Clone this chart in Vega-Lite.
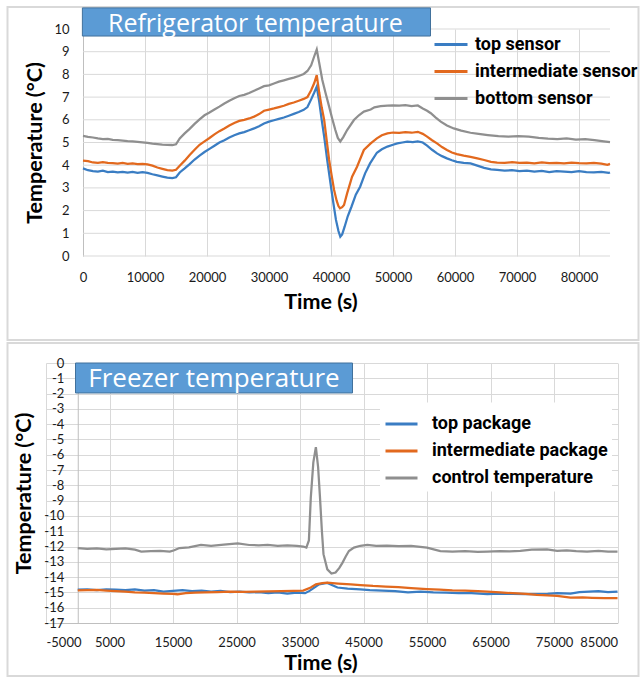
{
  "$schema": "https://vega.github.io/schema/vega-lite/v6.json",
  "background": "white",
  "padding": {"left": 6, "top": 6, "right": 0, "bottom": 0},
  "spacing": 0,
  "columns": 1,
  "resolve": {
    "scale": {"x": "independent", "y": "independent", "color": "independent"},
    "axis": {"x": "independent", "y": "independent"},
    "legend": {"color": "independent"}
  },
  "config": {
    "view": {"stroke": null},
    "font": "Lato",
    "axis": {
      "gridColor": "#d9d9d9",
      "domainColor": "#bfbfbf",
      "labelColor": "#1a1a1a",
      "labelFont": "Lato",
      "labelFontSize": 13,
      "labelOverlap": false,
      "labelBound": false,
      "titleFont": "Lato",
      "titleFontSize": 21.5,
      "titleFontWeight": "bold",
      "titleColor": "#000000",
      "ticks": false,
      "labelExpr": "'' + datum.value"
    }
  },
  "datasets": {
    "fridge": [
      {"t":0,"T":3.86,"s":"top sensor"},{"t":800,"T":3.78,"s":"top sensor"},{"t":1600,"T":3.74,"s":"top sensor"},{"t":2400,"T":3.72,"s":"top sensor"},{"t":3200,"T":3.76,"s":"top sensor"},{"t":4000,"T":3.70,"s":"top sensor"},{"t":4800,"T":3.72,"s":"top sensor"},{"t":5600,"T":3.68,"s":"top sensor"},{"t":6400,"T":3.71,"s":"top sensor"},{"t":7200,"T":3.67,"s":"top sensor"},{"t":8000,"T":3.70,"s":"top sensor"},{"t":8800,"T":3.66,"s":"top sensor"},{"t":9600,"T":3.69,"s":"top sensor"},{"t":10400,"T":3.66,"s":"top sensor"},{"t":11200,"T":3.60,"s":"top sensor"},{"t":12000,"T":3.55,"s":"top sensor"},{"t":12800,"T":3.50,"s":"top sensor"},{"t":13600,"T":3.45,"s":"top sensor"},{"t":14400,"T":3.43,"s":"top sensor"},{"t":15000,"T":3.47,"s":"top sensor"},{"t":15600,"T":3.68,"s":"top sensor"},{"t":16400,"T":3.86,"s":"top sensor"},{"t":17200,"T":4.05,"s":"top sensor"},{"t":18000,"T":4.25,"s":"top sensor"},{"t":18800,"T":4.42,"s":"top sensor"},{"t":19600,"T":4.58,"s":"top sensor"},{"t":20400,"T":4.72,"s":"top sensor"},{"t":21200,"T":4.86,"s":"top sensor"},{"t":22000,"T":5.00,"s":"top sensor"},{"t":22800,"T":5.10,"s":"top sensor"},{"t":23600,"T":5.22,"s":"top sensor"},{"t":24400,"T":5.32,"s":"top sensor"},{"t":25200,"T":5.40,"s":"top sensor"},{"t":26000,"T":5.46,"s":"top sensor"},{"t":26800,"T":5.54,"s":"top sensor"},{"t":27600,"T":5.62,"s":"top sensor"},{"t":28400,"T":5.72,"s":"top sensor"},{"t":29200,"T":5.84,"s":"top sensor"},{"t":30000,"T":5.92,"s":"top sensor"},{"t":30800,"T":5.98,"s":"top sensor"},{"t":31600,"T":6.04,"s":"top sensor"},{"t":32400,"T":6.10,"s":"top sensor"},{"t":33200,"T":6.18,"s":"top sensor"},{"t":34000,"T":6.26,"s":"top sensor"},{"t":34800,"T":6.34,"s":"top sensor"},{"t":35600,"T":6.44,"s":"top sensor"},{"t":36200,"T":6.56,"s":"top sensor"},{"t":36800,"T":6.90,"s":"top sensor"},{"t":37300,"T":7.20,"s":"top sensor"},{"t":37700,"T":7.46,"s":"top sensor"},{"t":38100,"T":6.80,"s":"top sensor"},{"t":38500,"T":6.00,"s":"top sensor"},{"t":38900,"T":5.26,"s":"top sensor"},{"t":39400,"T":4.20,"s":"top sensor"},{"t":40000,"T":3.05,"s":"top sensor"},{"t":40400,"T":2.30,"s":"top sensor"},{"t":40800,"T":1.59,"s":"top sensor"},{"t":41200,"T":1.10,"s":"top sensor"},{"t":41500,"T":0.85,"s":"top sensor"},{"t":41800,"T":0.95,"s":"top sensor"},{"t":42200,"T":1.29,"s":"top sensor"},{"t":42700,"T":1.75,"s":"top sensor"},{"t":43300,"T":2.17,"s":"top sensor"},{"t":44000,"T":2.70,"s":"top sensor"},{"t":44700,"T":3.05,"s":"top sensor"},{"t":45500,"T":3.64,"s":"top sensor"},{"t":46300,"T":4.08,"s":"top sensor"},{"t":47400,"T":4.55,"s":"top sensor"},{"t":48200,"T":4.70,"s":"top sensor"},{"t":49100,"T":4.82,"s":"top sensor"},{"t":50000,"T":4.90,"s":"top sensor"},{"t":50700,"T":4.96,"s":"top sensor"},{"t":51500,"T":5.00,"s":"top sensor"},{"t":52300,"T":5.04,"s":"top sensor"},{"t":53200,"T":5.02,"s":"top sensor"},{"t":54000,"T":5.05,"s":"top sensor"},{"t":54800,"T":5.00,"s":"top sensor"},{"t":55500,"T":4.86,"s":"top sensor"},{"t":56300,"T":4.68,"s":"top sensor"},{"t":57100,"T":4.52,"s":"top sensor"},{"t":57900,"T":4.40,"s":"top sensor"},{"t":58700,"T":4.30,"s":"top sensor"},{"t":59500,"T":4.22,"s":"top sensor"},{"t":60300,"T":4.15,"s":"top sensor"},{"t":61400,"T":4.10,"s":"top sensor"},{"t":62500,"T":4.08,"s":"top sensor"},{"t":63600,"T":3.98,"s":"top sensor"},{"t":64700,"T":3.88,"s":"top sensor"},{"t":65800,"T":3.82,"s":"top sensor"},{"t":66800,"T":3.79,"s":"top sensor"},{"t":68000,"T":3.76,"s":"top sensor"},{"t":69200,"T":3.78,"s":"top sensor"},{"t":70400,"T":3.74,"s":"top sensor"},{"t":71600,"T":3.76,"s":"top sensor"},{"t":72800,"T":3.72,"s":"top sensor"},{"t":74000,"T":3.75,"s":"top sensor"},{"t":75200,"T":3.70,"s":"top sensor"},{"t":76400,"T":3.74,"s":"top sensor"},{"t":77600,"T":3.72,"s":"top sensor"},{"t":78800,"T":3.70,"s":"top sensor"},{"t":80000,"T":3.74,"s":"top sensor"},{"t":81200,"T":3.70,"s":"top sensor"},{"t":82400,"T":3.68,"s":"top sensor"},{"t":83600,"T":3.71,"s":"top sensor"},{"t":84800,"T":3.66,"s":"top sensor"},{"t":85000,"T":3.68,"s":"top sensor"},
      {"t":0,"T":4.20,"s":"intermediate sensor"},{"t":800,"T":4.18,"s":"intermediate sensor"},{"t":1600,"T":4.12,"s":"intermediate sensor"},{"t":2400,"T":4.10,"s":"intermediate sensor"},{"t":3200,"T":4.14,"s":"intermediate sensor"},{"t":4000,"T":4.10,"s":"intermediate sensor"},{"t":4800,"T":4.09,"s":"intermediate sensor"},{"t":5600,"T":4.07,"s":"intermediate sensor"},{"t":6400,"T":4.10,"s":"intermediate sensor"},{"t":7200,"T":4.06,"s":"intermediate sensor"},{"t":8000,"T":4.08,"s":"intermediate sensor"},{"t":8800,"T":4.05,"s":"intermediate sensor"},{"t":9600,"T":4.06,"s":"intermediate sensor"},{"t":10400,"T":4.04,"s":"intermediate sensor"},{"t":11200,"T":3.98,"s":"intermediate sensor"},{"t":12000,"T":3.90,"s":"intermediate sensor"},{"t":12800,"T":3.84,"s":"intermediate sensor"},{"t":13600,"T":3.78,"s":"intermediate sensor"},{"t":14400,"T":3.76,"s":"intermediate sensor"},{"t":15000,"T":3.80,"s":"intermediate sensor"},{"t":15600,"T":3.98,"s":"intermediate sensor"},{"t":16400,"T":4.20,"s":"intermediate sensor"},{"t":17200,"T":4.45,"s":"intermediate sensor"},{"t":18000,"T":4.68,"s":"intermediate sensor"},{"t":18800,"T":4.90,"s":"intermediate sensor"},{"t":19600,"T":5.05,"s":"intermediate sensor"},{"t":20400,"T":5.20,"s":"intermediate sensor"},{"t":21200,"T":5.36,"s":"intermediate sensor"},{"t":22000,"T":5.50,"s":"intermediate sensor"},{"t":22800,"T":5.62,"s":"intermediate sensor"},{"t":23600,"T":5.75,"s":"intermediate sensor"},{"t":24400,"T":5.86,"s":"intermediate sensor"},{"t":25200,"T":5.95,"s":"intermediate sensor"},{"t":26000,"T":6.00,"s":"intermediate sensor"},{"t":26800,"T":6.06,"s":"intermediate sensor"},{"t":27600,"T":6.14,"s":"intermediate sensor"},{"t":28400,"T":6.25,"s":"intermediate sensor"},{"t":29200,"T":6.40,"s":"intermediate sensor"},{"t":30000,"T":6.45,"s":"intermediate sensor"},{"t":30800,"T":6.50,"s":"intermediate sensor"},{"t":31600,"T":6.56,"s":"intermediate sensor"},{"t":32400,"T":6.62,"s":"intermediate sensor"},{"t":33200,"T":6.70,"s":"intermediate sensor"},{"t":34000,"T":6.76,"s":"intermediate sensor"},{"t":34800,"T":6.84,"s":"intermediate sensor"},{"t":35600,"T":6.92,"s":"intermediate sensor"},{"t":36200,"T":7.00,"s":"intermediate sensor"},{"t":36800,"T":7.30,"s":"intermediate sensor"},{"t":37300,"T":7.62,"s":"intermediate sensor"},{"t":37700,"T":7.97,"s":"intermediate sensor"},{"t":38100,"T":7.20,"s":"intermediate sensor"},{"t":38500,"T":6.55,"s":"intermediate sensor"},{"t":38900,"T":5.99,"s":"intermediate sensor"},{"t":39300,"T":5.10,"s":"intermediate sensor"},{"t":39700,"T":4.23,"s":"intermediate sensor"},{"t":40100,"T":3.55,"s":"intermediate sensor"},{"t":40500,"T":2.91,"s":"intermediate sensor"},{"t":40900,"T":2.45,"s":"intermediate sensor"},{"t":41200,"T":2.20,"s":"intermediate sensor"},{"t":41450,"T":2.10,"s":"intermediate sensor"},{"t":41800,"T":2.15,"s":"intermediate sensor"},{"t":42100,"T":2.25,"s":"intermediate sensor"},{"t":42600,"T":2.76,"s":"intermediate sensor"},{"t":43400,"T":3.49,"s":"intermediate sensor"},{"t":44200,"T":3.93,"s":"intermediate sensor"},{"t":45300,"T":4.67,"s":"intermediate sensor"},{"t":46400,"T":4.96,"s":"intermediate sensor"},{"t":47400,"T":5.18,"s":"intermediate sensor"},{"t":48200,"T":5.32,"s":"intermediate sensor"},{"t":49100,"T":5.40,"s":"intermediate sensor"},{"t":50000,"T":5.44,"s":"intermediate sensor"},{"t":51000,"T":5.42,"s":"intermediate sensor"},{"t":52000,"T":5.46,"s":"intermediate sensor"},{"t":53000,"T":5.43,"s":"intermediate sensor"},{"t":54000,"T":5.47,"s":"intermediate sensor"},{"t":54800,"T":5.38,"s":"intermediate sensor"},{"t":55500,"T":5.26,"s":"intermediate sensor"},{"t":56300,"T":5.10,"s":"intermediate sensor"},{"t":57100,"T":4.96,"s":"intermediate sensor"},{"t":57900,"T":4.80,"s":"intermediate sensor"},{"t":58700,"T":4.67,"s":"intermediate sensor"},{"t":59500,"T":4.56,"s":"intermediate sensor"},{"t":60300,"T":4.49,"s":"intermediate sensor"},{"t":61400,"T":4.42,"s":"intermediate sensor"},{"t":62500,"T":4.37,"s":"intermediate sensor"},{"t":63600,"T":4.30,"s":"intermediate sensor"},{"t":64700,"T":4.23,"s":"intermediate sensor"},{"t":65800,"T":4.15,"s":"intermediate sensor"},{"t":66800,"T":4.11,"s":"intermediate sensor"},{"t":68000,"T":4.10,"s":"intermediate sensor"},{"t":69200,"T":4.13,"s":"intermediate sensor"},{"t":70400,"T":4.10,"s":"intermediate sensor"},{"t":71600,"T":4.11,"s":"intermediate sensor"},{"t":72800,"T":4.08,"s":"intermediate sensor"},{"t":74000,"T":4.12,"s":"intermediate sensor"},{"t":75200,"T":4.09,"s":"intermediate sensor"},{"t":76400,"T":4.10,"s":"intermediate sensor"},{"t":77600,"T":4.08,"s":"intermediate sensor"},{"t":78800,"T":4.11,"s":"intermediate sensor"},{"t":80000,"T":4.09,"s":"intermediate sensor"},{"t":81200,"T":4.08,"s":"intermediate sensor"},{"t":82400,"T":4.10,"s":"intermediate sensor"},{"t":83600,"T":4.07,"s":"intermediate sensor"},{"t":84600,"T":4.02,"s":"intermediate sensor"},{"t":85000,"T":4.06,"s":"intermediate sensor"},
      {"t":0,"T":5.29,"s":"bottom sensor"},{"t":800,"T":5.25,"s":"bottom sensor"},{"t":1600,"T":5.22,"s":"bottom sensor"},{"t":2400,"T":5.18,"s":"bottom sensor"},{"t":3200,"T":5.15,"s":"bottom sensor"},{"t":4000,"T":5.16,"s":"bottom sensor"},{"t":4800,"T":5.12,"s":"bottom sensor"},{"t":5600,"T":5.10,"s":"bottom sensor"},{"t":6400,"T":5.08,"s":"bottom sensor"},{"t":7200,"T":5.06,"s":"bottom sensor"},{"t":8000,"T":5.05,"s":"bottom sensor"},{"t":8800,"T":5.03,"s":"bottom sensor"},{"t":9600,"T":5.01,"s":"bottom sensor"},{"t":10400,"T":4.98,"s":"bottom sensor"},{"t":11200,"T":4.95,"s":"bottom sensor"},{"t":12000,"T":4.93,"s":"bottom sensor"},{"t":12800,"T":4.91,"s":"bottom sensor"},{"t":13600,"T":4.90,"s":"bottom sensor"},{"t":14400,"T":4.89,"s":"bottom sensor"},{"t":15000,"T":4.92,"s":"bottom sensor"},{"t":15600,"T":5.18,"s":"bottom sensor"},{"t":16400,"T":5.40,"s":"bottom sensor"},{"t":17200,"T":5.60,"s":"bottom sensor"},{"t":18000,"T":5.82,"s":"bottom sensor"},{"t":18800,"T":6.02,"s":"bottom sensor"},{"t":19600,"T":6.20,"s":"bottom sensor"},{"t":20400,"T":6.32,"s":"bottom sensor"},{"t":21200,"T":6.45,"s":"bottom sensor"},{"t":22000,"T":6.58,"s":"bottom sensor"},{"t":22800,"T":6.72,"s":"bottom sensor"},{"t":23600,"T":6.84,"s":"bottom sensor"},{"t":24400,"T":6.95,"s":"bottom sensor"},{"t":25200,"T":7.05,"s":"bottom sensor"},{"t":26000,"T":7.10,"s":"bottom sensor"},{"t":26800,"T":7.18,"s":"bottom sensor"},{"t":27600,"T":7.28,"s":"bottom sensor"},{"t":28400,"T":7.38,"s":"bottom sensor"},{"t":29200,"T":7.48,"s":"bottom sensor"},{"t":30000,"T":7.52,"s":"bottom sensor"},{"t":30800,"T":7.60,"s":"bottom sensor"},{"t":31600,"T":7.68,"s":"bottom sensor"},{"t":32400,"T":7.74,"s":"bottom sensor"},{"t":33200,"T":7.80,"s":"bottom sensor"},{"t":34000,"T":7.86,"s":"bottom sensor"},{"t":34800,"T":7.93,"s":"bottom sensor"},{"t":35600,"T":8.02,"s":"bottom sensor"},{"t":36200,"T":8.15,"s":"bottom sensor"},{"t":36800,"T":8.40,"s":"bottom sensor"},{"t":37300,"T":8.80,"s":"bottom sensor"},{"t":37700,"T":9.10,"s":"bottom sensor"},{"t":38100,"T":8.50,"s":"bottom sensor"},{"t":38600,"T":7.75,"s":"bottom sensor"},{"t":39100,"T":7.20,"s":"bottom sensor"},{"t":39700,"T":6.58,"s":"bottom sensor"},{"t":40200,"T":6.05,"s":"bottom sensor"},{"t":40700,"T":5.55,"s":"bottom sensor"},{"t":41100,"T":5.20,"s":"bottom sensor"},{"t":41500,"T":5.04,"s":"bottom sensor"},{"t":42000,"T":5.25,"s":"bottom sensor"},{"t":42600,"T":5.55,"s":"bottom sensor"},{"t":43700,"T":5.99,"s":"bottom sensor"},{"t":44500,"T":6.20,"s":"bottom sensor"},{"t":45300,"T":6.36,"s":"bottom sensor"},{"t":46400,"T":6.45,"s":"bottom sensor"},{"t":47000,"T":6.55,"s":"bottom sensor"},{"t":48000,"T":6.60,"s":"bottom sensor"},{"t":49100,"T":6.62,"s":"bottom sensor"},{"t":50000,"T":6.64,"s":"bottom sensor"},{"t":51000,"T":6.62,"s":"bottom sensor"},{"t":52000,"T":6.65,"s":"bottom sensor"},{"t":53000,"T":6.60,"s":"bottom sensor"},{"t":54000,"T":6.63,"s":"bottom sensor"},{"t":54800,"T":6.50,"s":"bottom sensor"},{"t":55500,"T":6.40,"s":"bottom sensor"},{"t":56100,"T":6.29,"s":"bottom sensor"},{"t":56900,"T":6.10,"s":"bottom sensor"},{"t":57700,"T":5.92,"s":"bottom sensor"},{"t":58700,"T":5.75,"s":"bottom sensor"},{"t":59800,"T":5.62,"s":"bottom sensor"},{"t":61000,"T":5.52,"s":"bottom sensor"},{"t":62500,"T":5.43,"s":"bottom sensor"},{"t":63800,"T":5.38,"s":"bottom sensor"},{"t":65300,"T":5.33,"s":"bottom sensor"},{"t":67000,"T":5.28,"s":"bottom sensor"},{"t":68600,"T":5.26,"s":"bottom sensor"},{"t":70200,"T":5.28,"s":"bottom sensor"},{"t":71900,"T":5.26,"s":"bottom sensor"},{"t":73500,"T":5.20,"s":"bottom sensor"},{"t":75000,"T":5.17,"s":"bottom sensor"},{"t":76500,"T":5.15,"s":"bottom sensor"},{"t":78000,"T":5.18,"s":"bottom sensor"},{"t":79500,"T":5.13,"s":"bottom sensor"},{"t":81000,"T":5.15,"s":"bottom sensor"},{"t":82500,"T":5.10,"s":"bottom sensor"},{"t":84000,"T":5.05,"s":"bottom sensor"},{"t":85000,"T":5.02,"s":"bottom sensor"}
    ],
    "freezer": [
      {"t":0,"T":-14.82,"s":"top package"},{"t":1500,"T":-14.80,"s":"top package"},{"t":3000,"T":-14.85,"s":"top package"},{"t":4500,"T":-14.80,"s":"top package"},{"t":6000,"T":-14.82,"s":"top package"},{"t":7500,"T":-14.85,"s":"top package"},{"t":9000,"T":-14.80,"s":"top package"},{"t":10500,"T":-14.88,"s":"top package"},{"t":12000,"T":-14.85,"s":"top package"},{"t":13500,"T":-14.95,"s":"top package"},{"t":15000,"T":-14.90,"s":"top package"},{"t":16500,"T":-14.85,"s":"top package"},{"t":18000,"T":-14.92,"s":"top package"},{"t":19500,"T":-14.88,"s":"top package"},{"t":21000,"T":-14.95,"s":"top package"},{"t":22500,"T":-14.90,"s":"top package"},{"t":24000,"T":-14.98,"s":"top package"},{"t":25500,"T":-14.95,"s":"top package"},{"t":27000,"T":-15.00,"s":"top package"},{"t":28500,"T":-14.98,"s":"top package"},{"t":30000,"T":-15.05,"s":"top package"},{"t":31500,"T":-15.00,"s":"top package"},{"t":33000,"T":-15.08,"s":"top package"},{"t":34500,"T":-15.02,"s":"top package"},{"t":35800,"T":-15.05,"s":"top package"},{"t":36500,"T":-14.90,"s":"top package"},{"t":37200,"T":-14.70,"s":"top package"},{"t":38000,"T":-14.47,"s":"top package"},{"t":39300,"T":-14.38,"s":"top package"},{"t":40200,"T":-14.55,"s":"top package"},{"t":40900,"T":-14.68,"s":"top package"},{"t":42500,"T":-14.75,"s":"top package"},{"t":44500,"T":-14.80,"s":"top package"},{"t":46000,"T":-14.85,"s":"top package"},{"t":48000,"T":-14.88,"s":"top package"},{"t":50000,"T":-14.92,"s":"top package"},{"t":52000,"T":-15.00,"s":"top package"},{"t":54000,"T":-14.95,"s":"top package"},{"t":56000,"T":-15.00,"s":"top package"},{"t":58000,"T":-15.02,"s":"top package"},{"t":60000,"T":-15.05,"s":"top package"},{"t":62000,"T":-15.05,"s":"top package"},{"t":64500,"T":-15.12,"s":"top package"},{"t":66500,"T":-15.08,"s":"top package"},{"t":68500,"T":-15.10,"s":"top package"},{"t":70500,"T":-15.12,"s":"top package"},{"t":72300,"T":-15.12,"s":"top package"},{"t":74000,"T":-15.10,"s":"top package"},{"t":75500,"T":-15.05,"s":"top package"},{"t":77600,"T":-15.08,"s":"top package"},{"t":79000,"T":-14.98,"s":"top package"},{"t":80500,"T":-14.95,"s":"top package"},{"t":82000,"T":-14.92,"s":"top package"},{"t":83500,"T":-14.98,"s":"top package"},{"t":85000,"T":-14.95,"s":"top package"},
      {"t":0,"T":-14.86,"s":"intermediate package"},{"t":1500,"T":-14.85,"s":"intermediate package"},{"t":3000,"T":-14.84,"s":"intermediate package"},{"t":4500,"T":-14.88,"s":"intermediate package"},{"t":6000,"T":-14.92,"s":"intermediate package"},{"t":7500,"T":-14.95,"s":"intermediate package"},{"t":9000,"T":-15.00,"s":"intermediate package"},{"t":10500,"T":-15.02,"s":"intermediate package"},{"t":12000,"T":-15.05,"s":"intermediate package"},{"t":13500,"T":-15.08,"s":"intermediate package"},{"t":15000,"T":-15.10,"s":"intermediate package"},{"t":15700,"T":-15.12,"s":"intermediate package"},{"t":17000,"T":-15.05,"s":"intermediate package"},{"t":18500,"T":-15.02,"s":"intermediate package"},{"t":20000,"T":-15.00,"s":"intermediate package"},{"t":22000,"T":-14.98,"s":"intermediate package"},{"t":24000,"T":-14.95,"s":"intermediate package"},{"t":26000,"T":-14.97,"s":"intermediate package"},{"t":28000,"T":-14.95,"s":"intermediate package"},{"t":30000,"T":-14.93,"s":"intermediate package"},{"t":32000,"T":-14.92,"s":"intermediate package"},{"t":34000,"T":-14.90,"s":"intermediate package"},{"t":35500,"T":-14.88,"s":"intermediate package"},{"t":36700,"T":-14.68,"s":"intermediate package"},{"t":37500,"T":-14.47,"s":"intermediate package"},{"t":38500,"T":-14.40,"s":"intermediate package"},{"t":39300,"T":-14.36,"s":"intermediate package"},{"t":41000,"T":-14.42,"s":"intermediate package"},{"t":43000,"T":-14.48,"s":"intermediate package"},{"t":44500,"T":-14.52,"s":"intermediate package"},{"t":46500,"T":-14.58,"s":"intermediate package"},{"t":48500,"T":-14.62,"s":"intermediate package"},{"t":50500,"T":-14.66,"s":"intermediate package"},{"t":52500,"T":-14.72,"s":"intermediate package"},{"t":55000,"T":-14.78,"s":"intermediate package"},{"t":57000,"T":-14.82,"s":"intermediate package"},{"t":59000,"T":-14.86,"s":"intermediate package"},{"t":61000,"T":-14.88,"s":"intermediate package"},{"t":63000,"T":-14.92,"s":"intermediate package"},{"t":64500,"T":-14.95,"s":"intermediate package"},{"t":66500,"T":-15.00,"s":"intermediate package"},{"t":68500,"T":-15.05,"s":"intermediate package"},{"t":70500,"T":-15.10,"s":"intermediate package"},{"t":72300,"T":-15.16,"s":"intermediate package"},{"t":74000,"T":-15.20,"s":"intermediate package"},{"t":75500,"T":-15.22,"s":"intermediate package"},{"t":77600,"T":-15.34,"s":"intermediate package"},{"t":79500,"T":-15.32,"s":"intermediate package"},{"t":81000,"T":-15.35,"s":"intermediate package"},{"t":83000,"T":-15.38,"s":"intermediate package"},{"t":85000,"T":-15.38,"s":"intermediate package"},
      {"t":0,"T":-12.10,"s":"control temperature"},{"t":1500,"T":-12.15,"s":"control temperature"},{"t":3000,"T":-12.12,"s":"control temperature"},{"t":4500,"T":-12.18,"s":"control temperature"},{"t":6000,"T":-12.15,"s":"control temperature"},{"t":7500,"T":-12.12,"s":"control temperature"},{"t":9000,"T":-12.20,"s":"control temperature"},{"t":10000,"T":-12.33,"s":"control temperature"},{"t":11500,"T":-12.30,"s":"control temperature"},{"t":13000,"T":-12.28,"s":"control temperature"},{"t":14500,"T":-12.33,"s":"control temperature"},{"t":15200,"T":-12.24,"s":"control temperature"},{"t":16000,"T":-12.10,"s":"control temperature"},{"t":17500,"T":-12.05,"s":"control temperature"},{"t":19400,"T":-11.90,"s":"control temperature"},{"t":21000,"T":-11.95,"s":"control temperature"},{"t":23000,"T":-11.88,"s":"control temperature"},{"t":25200,"T":-11.80,"s":"control temperature"},{"t":27000,"T":-11.90,"s":"control temperature"},{"t":28500,"T":-11.92,"s":"control temperature"},{"t":29900,"T":-11.90,"s":"control temperature"},{"t":31500,"T":-11.95,"s":"control temperature"},{"t":33000,"T":-11.92,"s":"control temperature"},{"t":34500,"T":-11.96,"s":"control temperature"},{"t":35500,"T":-12.00,"s":"control temperature"},{"t":36000,"T":-12.07,"s":"control temperature"},{"t":36400,"T":-11.60,"s":"control temperature"},{"t":36700,"T":-8.80,"s":"control temperature"},{"t":37100,"T":-6.50,"s":"control temperature"},{"t":37500,"T":-5.50,"s":"control temperature"},{"t":37850,"T":-6.80,"s":"control temperature"},{"t":38150,"T":-8.80,"s":"control temperature"},{"t":38450,"T":-11.00,"s":"control temperature"},{"t":38700,"T":-12.50,"s":"control temperature"},{"t":39300,"T":-13.49,"s":"control temperature"},{"t":39950,"T":-13.77,"s":"control temperature"},{"t":40600,"T":-13.70,"s":"control temperature"},{"t":41200,"T":-13.40,"s":"control temperature"},{"t":41700,"T":-13.05,"s":"control temperature"},{"t":42200,"T":-12.65,"s":"control temperature"},{"t":42700,"T":-12.29,"s":"control temperature"},{"t":43500,"T":-12.07,"s":"control temperature"},{"t":44500,"T":-11.95,"s":"control temperature"},{"t":45600,"T":-11.90,"s":"control temperature"},{"t":47000,"T":-11.96,"s":"control temperature"},{"t":48700,"T":-11.94,"s":"control temperature"},{"t":50500,"T":-11.98,"s":"control temperature"},{"t":52500,"T":-11.96,"s":"control temperature"},{"t":55000,"T":-12.07,"s":"control temperature"},{"t":57100,"T":-12.30,"s":"control temperature"},{"t":59000,"T":-12.33,"s":"control temperature"},{"t":61000,"T":-12.30,"s":"control temperature"},{"t":63000,"T":-12.35,"s":"control temperature"},{"t":64500,"T":-12.33,"s":"control temperature"},{"t":66500,"T":-12.30,"s":"control temperature"},{"t":68000,"T":-12.32,"s":"control temperature"},{"t":69700,"T":-12.29,"s":"control temperature"},{"t":71500,"T":-12.20,"s":"control temperature"},{"t":73900,"T":-12.18,"s":"control temperature"},{"t":75500,"T":-12.28,"s":"control temperature"},{"t":77000,"T":-12.25,"s":"control temperature"},{"t":78500,"T":-12.30,"s":"control temperature"},{"t":80200,"T":-12.33,"s":"control temperature"},{"t":82000,"T":-12.28,"s":"control temperature"},{"t":83500,"T":-12.33,"s":"control temperature"},{"t":85000,"T":-12.33,"s":"control temperature"}
    ]
  },
  "concat": [
    {
      "width": 564,
      "height": 227,
      "encoding": {
        "x": {
          "type": "quantitative", "title": "Time (s)",
          "scale": {"domain": [-5968, 85000], "nice": false, "zero": false},
          "axis": {"values": [0,10000,20000,30000,40000,50000,60000,70000,80000], "grid": true, "domain": false, "labelPadding": 15, "titleX": 274.5, "titleY": 46, "titleBaseline": "middle"}
        },
        "y": {
          "type": "quantitative", "title": "Temperature (°C)",
          "scale": {"domain": [0, 10], "nice": false, "zero": false},
          "axis": {"values": [0,1,2,3,4,5,6,7,8,9,10], "grid": false, "offset": -37, "labelPadding": 14, "titleX": -47.5, "titleBaseline": "middle"}
        }
      },
      "layer": [
        {
          "data": {"values": [{}]},
          "mark": {"type": "rect", "fill": null, "fillOpacity": 0, "stroke": "#d9d9d9", "strokeWidth": 2},
          "encoding": {
            "x": {"datum": -12178},
            "x2": {"datum": 89597},
            "y": {"datum": 10.969},
            "y2": {"datum": -3.70}
          }
        },
        {
          "data": {"values": [{"g":0},{"g":1},{"g":2},{"g":3},{"g":4},{"g":5},{"g":6},{"g":7},{"g":8},{"g":9},{"g":10}]},
          "mark": {"type": "rule", "color": "#d9d9d9", "strokeWidth": 1},
          "encoding": {
            "y": {"field": "g"},
            "x": {"datum": 0},
            "x2": {"datum": 85000}
          }
        },
        {
          "data": {"name": "fridge"},
          "mark": {"type": "line", "strokeWidth": 2.25},
          "encoding": {
            "x": {"field": "t"},
            "y": {"field": "T"},
            "color": {
              "field": "s", "type": "nominal",
              "scale": {"domain": ["top sensor", "intermediate sensor", "bottom sensor"], "range": ["#3A7DC3", "#E2691E", "#8F8F8F"]},
              "legend": {"orient": "none", "legendX": 387, "legendY": -2.5, "title": null, "symbolType": "stroke", "symbolSize": 1089, "symbolStrokeWidth": 3, "labelFont": "Roboto", "labelFontSize": 18, "labelFontWeight": "bold", "labelColor": "#000000", "labelOffset": 6, "rowPadding": -6.6, "padding": 0, "labelLimit": 300}
            }
          }
        },
        {
          "data": {"values": [{}]},
          "mark": {"type": "rect", "fill": "#5B9BD5", "stroke": "#41719C", "strokeWidth": 1},
          "encoding": {
            "x": {"datum": -100},
            "x2": {"datum": 56049},
            "y": {"datum": 10.93},
            "y2": {"datum": 9.69}
          }
        },
        {
          "data": {"values": [{"label": "Refrigerator temperature"}]},
          "mark": {"type": "text", "font": "Open Sans", "fontSize": 25, "color": "#ffffff", "align": "center", "baseline": "alphabetic"},
          "encoding": {
            "x": {"datum": 27800},
            "y": {"datum": 9.88},
            "text": {"field": "label"}
          }
        }
      ]
    },
    {
      "width": 571.5,
      "height": 260,
      "encoding": {
        "x": {
          "type": "quantitative", "title": "Time (s)",
          "scale": {"domain": [-5000, 85000], "nice": false, "zero": false},
          "axis": {"values": [-5000,5000,15000,25000,35000,45000,55000,65000,75000,85000], "grid": true, "labelPadding": 13, "titleX": 274.5, "titleY": 40, "titleBaseline": "middle"}
        },
        "y": {
          "type": "quantitative", "title": "Temperature (°C)",
          "scale": {"domain": [-17, 0], "nice": false, "zero": false},
          "axis": {"values": [0,-1,-2,-3,-4,-5,-6,-7,-8,-9,-10,-11,-12,-13,-14,-15,-16,-17], "grid": true, "offset": -31.75, "labelPadding": 14, "titleX": -53.75, "titleBaseline": "middle"}
        }
      },
      "layer": [
        {
          "data": {"values": [{}]},
          "mark": {"type": "rect", "fill": null, "fillOpacity": 0, "stroke": "#d9d9d9", "strokeWidth": 2},
          "encoding": {
            "x": {"datum": -11063},
            "x2": {"datum": 88307},
            "y": {"datum": 1.308},
            "y2": {"datum": -20.465}
          }
        },
        {
          "data": {"name": "freezer"},
          "mark": {"type": "line", "strokeWidth": 2.25},
          "encoding": {
            "x": {"field": "t"},
            "y": {"field": "T"},
            "color": {
              "field": "s", "type": "nominal",
              "scale": {"domain": ["top package", "intermediate package", "control temperature"], "range": ["#3A7DC3", "#E2691E", "#8F8F8F"]},
              "legend": {"orient": "none", "legendX": 334, "legendY": 39.5, "title": null, "symbolType": "stroke", "symbolSize": 1024, "symbolStrokeWidth": 3, "labelFont": "Roboto", "labelFontSize": 18, "labelFontWeight": "bold", "labelColor": "#000000", "labelOffset": 13, "rowPadding": -7.5, "padding": 4, "fillColor": "#ffffff", "labelLimit": 300}
            }
          }
        },
        {
          "data": {"values": [{}]},
          "mark": {"type": "rect", "fill": "#5B9BD5", "stroke": "#41719C", "strokeWidth": 1},
          "encoding": {
            "x": {"datum": -354},
            "x2": {"datum": 43268},
            "y": {"datum": 0},
            "y2": {"datum": -1.96}
          }
        },
        {
          "data": {"values": [{"label": "Freezer temperature"}]},
          "mark": {"type": "text", "font": "Open Sans", "fontSize": 26, "color": "#ffffff", "align": "center", "baseline": "alphabetic"},
          "encoding": {
            "x": {"datum": 21457},
            "y": {"datum": -1.57},
            "text": {"field": "label"}
          }
        }
      ]
    }
  ]
}
